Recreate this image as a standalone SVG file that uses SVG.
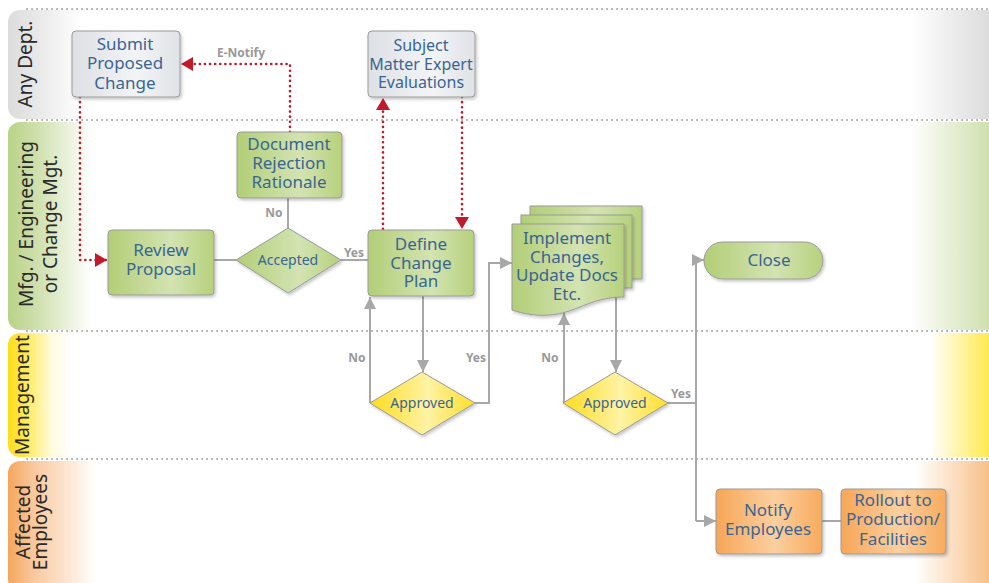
<svg xmlns="http://www.w3.org/2000/svg" width="989" height="583" viewBox="0 0 989 583">
<defs>
<linearGradient id="laneGray" gradientUnits="userSpaceOnUse" x1="8" y1="0" x2="989" y2="0">
<stop offset="0" stop-color="#dcdcdc"/><stop offset="0.03" stop-color="#e8e8e8"/><stop offset="0.075" stop-color="#ffffff"/><stop offset="0.92" stop-color="#ffffff"/><stop offset="1" stop-color="#dcdcdc"/>
</linearGradient>
<linearGradient id="laneGreen" gradientUnits="userSpaceOnUse" x1="8" y1="0" x2="989" y2="0">
<stop offset="0" stop-color="#b9d288"/><stop offset="0.03" stop-color="#cfe0ae"/><stop offset="0.085" stop-color="#ffffff"/><stop offset="0.92" stop-color="#ffffff"/><stop offset="1" stop-color="#cfe0ae"/>
</linearGradient>
<linearGradient id="laneYellow" gradientUnits="userSpaceOnUse" x1="8" y1="0" x2="989" y2="0">
<stop offset="0" stop-color="#ffdd1a"/><stop offset="0.015" stop-color="#ffe84a"/><stop offset="0.045" stop-color="#fffbe0"/><stop offset="0.065" stop-color="#ffffff"/><stop offset="0.94" stop-color="#ffffff"/><stop offset="1" stop-color="#ffe94f"/>
</linearGradient>
<linearGradient id="laneOrange" gradientUnits="userSpaceOnUse" x1="8" y1="0" x2="989" y2="0">
<stop offset="0" stop-color="#f5a55c"/><stop offset="0.025" stop-color="#f9c79c"/><stop offset="0.09" stop-color="#ffffff"/><stop offset="0.925" stop-color="#ffffff"/><stop offset="1" stop-color="#f8c088"/>
</linearGradient>
<linearGradient id="gGreen" x1="0" y1="0" x2="1" y2="0">
<stop offset="0" stop-color="#b2ce77"/><stop offset="0.6" stop-color="#d3e3b2"/><stop offset="1" stop-color="#b6d17c"/>
</linearGradient>
<linearGradient id="gGray" x1="0" y1="0" x2="1" y2="0">
<stop offset="0" stop-color="#dde0e4"/><stop offset="0.6" stop-color="#f3f4f6"/><stop offset="1" stop-color="#dfe2e6"/>
</linearGradient>
<linearGradient id="gYellow" x1="0" y1="0" x2="1" y2="0">
<stop offset="0" stop-color="#ffdc1e"/><stop offset="0.55" stop-color="#fff3a6"/><stop offset="1" stop-color="#ffde2a"/>
</linearGradient>
<linearGradient id="gOrange" x1="0" y1="0" x2="1" y2="0">
<stop offset="0" stop-color="#f6a656"/><stop offset="0.55" stop-color="#fccf9f"/><stop offset="1" stop-color="#f7ab5e"/>
</linearGradient>
<filter id="sh" x="-10%" y="-10%" width="130%" height="130%">
<feDropShadow dx="1.5" dy="2" stdDeviation="1.5" flood-color="#000" flood-opacity="0.22"/>
</filter>
<marker id="ag" markerUnits="userSpaceOnUse" markerWidth="12" markerHeight="12" viewBox="0 0 12 12" refX="12" refY="6" orient="auto">
<path d="M0,0 L12,6 L0,12 Z" fill="#a8a8a8"/>
</marker>
<marker id="ar" markerUnits="userSpaceOnUse" markerWidth="12" markerHeight="14" viewBox="0 0 12 14" refX="12" refY="7" orient="auto">
<path d="M0,0 L12,7 L0,14 Z" fill="#c01a2c"/>
</marker>
<style>
.lane{stroke:none}
.sep{stroke:#aaaaaa;stroke-width:2;stroke-dasharray:0.1 4.9;stroke-linecap:round;fill:none}
.lt{font-family:"Noto Sans","Open Sans",sans-serif;font-size:19px;fill:#2a2a2a;text-anchor:middle}
.node{stroke:#9a9a9a;stroke-width:1;filter:url(#sh)}
.nt{font-family:"Noto Sans","Open Sans",sans-serif;font-size:17px;fill:#3a6591;text-anchor:middle}
.dt{font-family:"Noto Sans","Open Sans",sans-serif;font-size:14px;fill:#3a6591;text-anchor:middle}
.lbl{font-family:"Noto Sans","Open Sans",sans-serif;font-size:12px;font-weight:bold;fill:#999999;text-anchor:middle}
.gc{stroke:#a8a8a8;stroke-width:2;fill:none}
.rc{stroke:#c01a2c;stroke-width:2.6;fill:none;stroke-dasharray:0.1 5;stroke-linecap:round}
</style>
</defs>

<g id="lanes">
<rect class="lane" x="8" y="10" width="995" height="109" rx="12" fill="url(#laneGray)"/>
<rect class="lane" x="8" y="122" width="995" height="208" rx="12" fill="url(#laneGreen)"/>
<rect class="lane" x="8" y="333" width="995" height="124" rx="12" fill="url(#laneYellow)"/>
<rect class="lane" x="8" y="461" width="995" height="130" rx="12" fill="url(#laneOrange)"/>
<path class="sep" d="M27,9 H989 M27,120 H989 M27,331 H989 M27,459 H989"/>
<text class="lt" transform="translate(32,64) rotate(-90)">Any Dept.</text>
<text class="lt" transform="translate(33,224) rotate(-90)">Mfg. / Engineering</text>
<text class="lt" transform="translate(57,224) rotate(-90)">or Change Mgt.</text>
<text class="lt" transform="translate(29,395) rotate(-90)">Management</text>
<text class="lt" transform="translate(30,522) rotate(-90)">Affected</text>
<text class="lt" transform="translate(47,522) rotate(-90)">Employees</text>
</g>

<g id="connectors">
<path class="rc" d="M80,97 V260 H107" marker-end="url(#ar)"/>
<path class="rc" d="M290,132 V64 H181" marker-end="url(#ar)"/>
<path class="rc" d="M383,229 V98" marker-end="url(#ar)"/>
<path class="rc" d="M462,97 V229" marker-end="url(#ar)"/>
<path class="gc" d="M214,260 H236"/>
<path class="gc" d="M288,228 V198"/>
<path class="gc" d="M341,260 H368"/>
<path class="gc" d="M423,296 V372" marker-end="url(#ag)"/>
<path class="gc" d="M370,403 V297" marker-end="url(#ag)"/>
<path class="gc" d="M475,403 H489 V263 H512" marker-end="url(#ag)"/>
<path class="gc" d="M564,403 V313" marker-end="url(#ag)"/>
<path class="gc" d="M616,297 V372" marker-end="url(#ag)"/>
<path class="gc" d="M668,403 H696"/>
<path class="gc" d="M696,521 V260 H704" marker-end="url(#ag)"/>
<path class="gc" d="M696,521 H716" marker-end="url(#ag)"/>
<path class="gc" d="M822,521 H841"/>
<text class="lbl" x="241" y="57">E-Notify</text>
<text class="lbl" x="274" y="217">No</text>
<text class="lbl" x="354" y="257">Yes</text>
<text class="lbl" x="357" y="362">No</text>
<text class="lbl" x="476" y="362">Yes</text>
<text class="lbl" x="550" y="362">No</text>
<text class="lbl" x="681" y="398">Yes</text>
</g>

<g id="submit">
<rect class="node" x="72" y="31" width="108" height="66" rx="4" fill="url(#gGray)"/>
<text class="nt" x="125" y="50">Submit</text>
<text class="nt" x="125" y="69">Proposed</text>
<text class="nt" x="125" y="89">Change</text>
</g>

<g id="sme">
<rect class="node" x="368" y="31" width="107" height="66" rx="4" fill="url(#gGray)"/>
<text class="nt" x="421" y="51" style="font-size:16px">Subject</text>
<text class="nt" x="421" y="70" style="font-size:16px">Matter Expert</text>
<text class="nt" x="421" y="88" style="font-size:16px">Evaluations</text>
</g>

<g id="rejection">
<rect class="node" x="237" y="132" width="105" height="66" rx="4" fill="url(#gGreen)"/>
<text class="nt" x="289" y="150">Document</text>
<text class="nt" x="289" y="169">Rejection</text>
<text class="nt" x="289" y="188">Rationale</text>
</g>

<g id="review">
<rect class="node" x="108" y="230" width="106" height="65" rx="4" fill="url(#gGreen)"/>
<text class="nt" x="161" y="256">Review</text>
<text class="nt" x="161" y="275">Proposal</text>
</g>

<g id="accepted">
<path class="node" d="M288,228 L341,260 L288,293 L236,260 Z" fill="url(#gGreen)"/>
<text class="dt" x="288" y="265">Accepted</text>
</g>

<g id="define">
<rect class="node" x="368" y="230" width="106" height="66" rx="4" fill="url(#gGreen)"/>
<text class="nt" x="421" y="250">Define</text>
<text class="nt" x="421" y="269">Change</text>
<text class="nt" x="421" y="287">Plan</text>
</g>

<g id="implement">
<rect class="node" x="530" y="206" width="112" height="73" fill="url(#gGreen)"/>
<rect class="node" x="521" y="215" width="111" height="73" fill="url(#gGreen)"/>
<path class="node" d="M512,224 H624 V297 C602,297 588,304 572,310 C556,316 536,318 512,310 Z" fill="url(#gGreen)"/>
<text class="nt" x="567" y="244">Implement</text>
<text class="nt" x="567" y="263">Changes,</text>
<text class="nt" x="567" y="281">Update Docs</text>
<text class="nt" x="567" y="300">Etc.</text>
</g>

<g id="approved1">
<path class="node" d="M422,372 L475,403 L422,435 L370,403 Z" fill="url(#gYellow)"/>
<text class="dt" x="422" y="408">Approved</text>
</g>

<g id="approved2">
<path class="node" d="M615,372 L668,403 L615,435 L563,403 Z" fill="url(#gYellow)"/>
<text class="dt" x="615" y="408">Approved</text>
</g>

<g id="close">
<rect class="node" x="704" y="242" width="119" height="37" rx="18.5" fill="url(#gGreen)"/>
<text class="nt" x="769" y="266">Close</text>
</g>

<g id="notify">
<rect class="node" x="716" y="489" width="106" height="65" rx="4" fill="url(#gOrange)"/>
<text class="nt" x="768" y="516">Notify</text>
<text class="nt" x="768" y="535">Employees</text>
</g>

<g id="rollout">
<rect class="node" x="841" y="489" width="105" height="65" rx="4" fill="url(#gOrange)"/>
<text class="nt" x="893" y="506">Rollout to</text>
<text class="nt" x="893" y="525">Production/</text>
<text class="nt" x="893" y="545">Facilities</text>
</g>
</svg>
